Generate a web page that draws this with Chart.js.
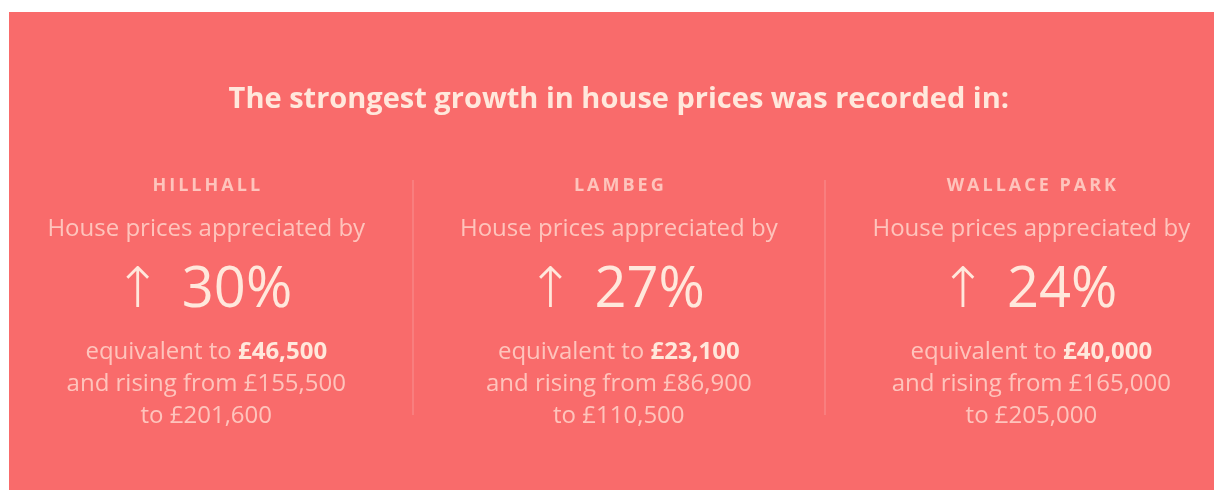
<!DOCTYPE html>
<html>
<head>
<meta charset="utf-8">
<script src="https://cdn.jsdelivr.net/npm/chart.js@4"></script>
<style>
  html, body { margin: 0; padding: 0; background: #fff; overflow: hidden; }
  #wrap { width: 1217px; height: 490px; }
</style>
</head>
<body>
<div id="wrap"><canvas id="growth"></canvas></div>
<script>
// data
const titleText = 'The strongest growth in house prices was recorded in:';
const places = ['HILLHALL', 'LAMBEG', 'WALLACE PARK'];
const growthPct = [30, 27, 24];
const gainGBP = [46500, 23100, 40000];
const fromGBP = [155500, 86900, 165000];
const toGBP = [201600, 110500, 205000];

const PANEL = '#f96b6b';
const CREAM = '#ffe8dc';
const SOFT = 'rgba(255,222,212,0.78)';
const FONT = '"Open Sans", "DejaVu Sans", sans-serif';

const gbp = v => '£' + v.toLocaleString('en-GB');

// draw a line made of [text, weight, colour, extraGap] parts, centred on x
function drawParts(ctx, parts, x, y, size) {
  let total = 0;
  parts.forEach(p => {
    ctx.font = p[1] + ' ' + size + 'px ' + FONT;
    p.w = ctx.measureText(p[0]).width + (p[3] || 0);
    total += p.w;
  });
  let cx = x - total / 2;
  parts.forEach(p => {
    ctx.font = p[1] + ' ' + size + 'px ' + FONT;
    ctx.fillStyle = p[2];
    ctx.textAlign = 'left';
    ctx.fillText(p[0], cx, y);
    cx += p.w;
  });
}

const panelPlugin = {
  id: 'panel',
  beforeDraw(chart) {
    const ctx = chart.ctx;
    ctx.save();
    ctx.fillStyle = '#fff';
    ctx.fillRect(0, 0, chart.width, chart.height);
    ctx.fillStyle = PANEL;
    ctx.fillRect(9, 12, 1205, chart.height - 12);
    ctx.restore();
  },
  afterDatasetsDraw(chart) {
    const ctx = chart.ctx;
    const xs = chart.scales.x;
    const area = chart.chartArea;
    ctx.save();

    // dividers between columns
    ctx.strokeStyle = 'rgba(255,255,255,0.13)';
    ctx.lineWidth = 2;
    [0.5, 1.5].forEach(v => {
      const x = Math.round(xs.getPixelForValue(v));
      ctx.beginPath();
      ctx.moveTo(x, area.top);
      ctx.lineTo(x, area.bottom);
      ctx.stroke();
    });

    ctx.textBaseline = 'middle';
    ctx.textAlign = 'center';

    // heading
    ctx.fillStyle = CREAM;
    ctx.font = 'bold 29px ' + FONT;
    ctx.fillText(titleText, xs.getPixelForValue(1), 100);

    const meta = chart.getDatasetMeta(0);
    places.forEach((name, i) => {
      const x = meta.data[i].x;

      ctx.textAlign = 'center';
      ctx.fillStyle = SOFT;
      ctx.font = 'bold 18px ' + FONT;
      ctx.letterSpacing = '3px';
      ctx.fillText(name, x + 1.5, 186);
      ctx.letterSpacing = '0px';

      ctx.font = '24px ' + FONT;
      ctx.fillText('House prices appreciated by', x, 229);

      // arrow + percentage
      drawParts(ctx, [['↑ ', '300', CREAM, 6], [growthPct[i] + '%', '400', CREAM]], x - 3, 291, 56);

      drawParts(ctx, [['equivalent to ', '400', SOFT], [gbp(gainGBP[i]), 'bold', CREAM]], x, 352, 24);
      drawParts(ctx, [['and rising from ' + gbp(fromGBP[i]), '400', SOFT]], x, 384, 24);
      drawParts(ctx, [['to ' + gbp(toGBP[i]), '400', SOFT]], x, 416, 24);
    });
    ctx.restore();
  }
};

new Chart(document.getElementById('growth'), {
  type: 'scatter',
  data: {
    datasets: [{
      data: places.map((p, i) => ({ x: i, y: growthPct[i] })),
      pointRadius: 0,
      pointHoverRadius: 0
    }]
  },
  options: {
    responsive: true,
    maintainAspectRatio: false,
    animation: false,
    events: [],
    layout: { padding: { top: 180, bottom: 75, left: 0, right: 0 } },
    plugins: { legend: { display: false }, tooltip: { enabled: false } },
    scales: {
      x: { type: 'linear', min: -0.5, max: 2.45, display: false },
      y: { min: 0, max: 40, display: false }
    }
  },
  plugins: [panelPlugin]
});
</script>
</body>
</html>
